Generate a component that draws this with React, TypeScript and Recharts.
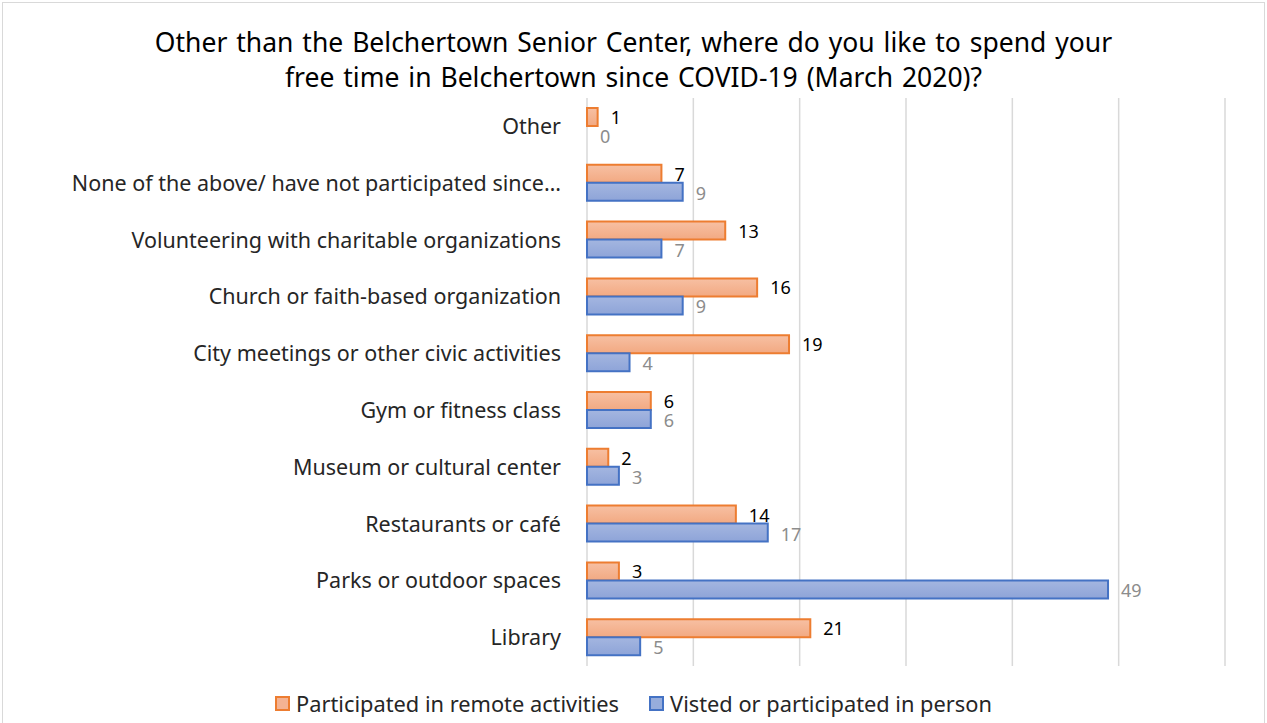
import React from "react";
import { BarChart, Bar, XAxis, YAxis, CartesianGrid, LabelList } from "recharts";

const categories = [
  "Other",
  "None of the above/ have not participated since…",
  "Volunteering with charitable organizations",
  "Church or faith-based organization",
  "City meetings or other civic activities",
  "Gym or fitness class",
  "Museum or cultural center",
  "Restaurants or café",
  "Parks or outdoor spaces",
  "Library",
];
const remote = [1, 7, 13, 16, 19, 6, 2, 14, 3, 21];
const inPerson = [0, 9, 7, 9, 4, 6, 3, 17, 49, 5];
const xTicks = [0, 10, 20, 30, 40, 50, 60];
const titleLines = [
  "Other than the Belchertown Senior Center, where do you like to spend your",
  "free time in Belchertown since COVID-19 (March 2020)?",
];
const seriesNames = ["Participated in remote activities", "Visted or participated in person"];

const data = categories.map((name, i) => ({ name, remote: remote[i], inPerson: inPerson[i] }));

const FONT = "'Noto Sans', 'Open Sans', sans-serif";
const BAR = 18;
const LABEL_GAP = 13;

const valueText = (x: number, y: number, value: any, color: string, key?: string) => (
  <text
    key={key}
    x={x}
    y={y}
    fill={color}
    fontSize={18}
    fontFamily={FONT}
    dominantBaseline="central"
  >
    {value}
  </text>
);

// Remote-series label; also shows the in-person value when that bar has zero length
// (a zero-length bar is not drawn, so its label would otherwise be lost).
const remoteLabel = (props: any) => {
  const { x, y, width, height, value, index } = props;
  const bx = Number(x);
  const by = Number(y);
  const h = Number(height);
  const w = Number(width || 0);
  const other = inPerson[index];
  return (
    <g>
      {valueText(bx + w + LABEL_GAP, by + h / 2, value, "#000")}
      {other === 0 ? valueText(bx + LABEL_GAP, by + h + BAR / 2 + 1, other, "#8c8c8c") : null}
    </g>
  );
};

const personLabel = (props: any) => {
  const { x, y, width, height, value } = props;
  if (value === undefined || value === null || value === 0) return null;
  return valueText(Number(x) + Number(width || 0) + LABEL_GAP, Number(y) + Number(height) / 2 + 1, value, "#8c8c8c");
};

export default function App() {
  return (
    <div
      style={{
        position: "absolute",
        left: 0,
        top: 0,
        width: 1267,
        height: 723,
        background: "#fff",
        fontFamily: FONT,
        overflow: "hidden",
      }}
    >
      <div
        style={{
          position: "absolute",
          left: 2,
          top: 2,
          width: 1263,
          height: 730,
          border: "1px solid #d9d9d9",
          boxSizing: "border-box",
        }}
      />
      <div
        style={{
          position: "absolute",
          left: 0,
          top: 25,
          width: 1267,
          textAlign: "center",
          fontSize: 26.5,
          lineHeight: "35px",
          color: "#000",
          wordSpacing: 2,
        }}
      >
        {titleLines.map((t, i) => (
          <div key={i}>{t}</div>
        ))}
      </div>
      <div style={{ position: "absolute", left: 0, top: 0 }}>
        <BarChart
          width={1267}
          height={723}
          data={data}
          layout="vertical"
          margin={{ top: 98, right: 42, bottom: 57, left: 0 }}
          barSize={BAR}
          barGap={0}
        >
          <defs>
            <linearGradient id="gOrange" x1="0" y1="0" x2="0" y2="1">
              <stop offset="0%" stopColor="#F7C0A3" />
              <stop offset="100%" stopColor="#F2A982" />
            </linearGradient>
            <linearGradient id="gBlue" x1="0" y1="0" x2="0" y2="1">
              <stop offset="0%" stopColor="#A4B6E0" />
              <stop offset="100%" stopColor="#8EA4D8" />
            </linearGradient>
          </defs>
          <CartesianGrid horizontal={false} stroke="#d9d9d9" strokeWidth={1.5} />
          <XAxis
            type="number"
            domain={[0, 60]}
            ticks={xTicks}
            tick={() => <g />}
            axisLine={false}
            tickLine={false}
            height={0}
          />
          <YAxis
            type="category"
            dataKey="name"
            width={587}
            axisLine={false}
            tickLine={false}
            tickMargin={20}
            interval={0}
            tick={{ fill: "#262626", fontSize: 21.5, fontFamily: FONT }}
          />
          <Bar
            dataKey="remote"
            name={seriesNames[0]}
            fill="url(#gOrange)"
            stroke="#ED7D31"
            strokeWidth={2}
            isAnimationActive={false}
          >
            <LabelList dataKey="remote" content={remoteLabel} />
          </Bar>
          <Bar
            dataKey="inPerson"
            name={seriesNames[1]}
            fill="url(#gBlue)"
            stroke="#4472C4"
            strokeWidth={2}
            isAnimationActive={false}
          >
            <LabelList dataKey="inPerson" content={personLabel} />
          </Bar>
        </BarChart>
      </div>
      <div
        style={{
          position: "absolute",
          left: 0,
          top: 689,
          width: 1267,
          display: "flex",
          justifyContent: "center",
          alignItems: "center",
          fontSize: 21.8,
          color: "#262626",
          gap: 30,
        }}
      >
        {seriesNames.map((n, i) => (
          <div key={i} style={{ display: "flex", alignItems: "center" }}>
            <span
              style={{
                display: "inline-block",
                width: 11,
                height: 11,
                background: i === 0 ? "#F4B393" : "#97ADDC",
                border: `2px solid ${i === 0 ? "#ED7D31" : "#4472C4"}`,
                marginRight: 6,
              }}
            />
            <span>{n}</span>
          </div>
        ))}
      </div>
    </div>
  );
}
